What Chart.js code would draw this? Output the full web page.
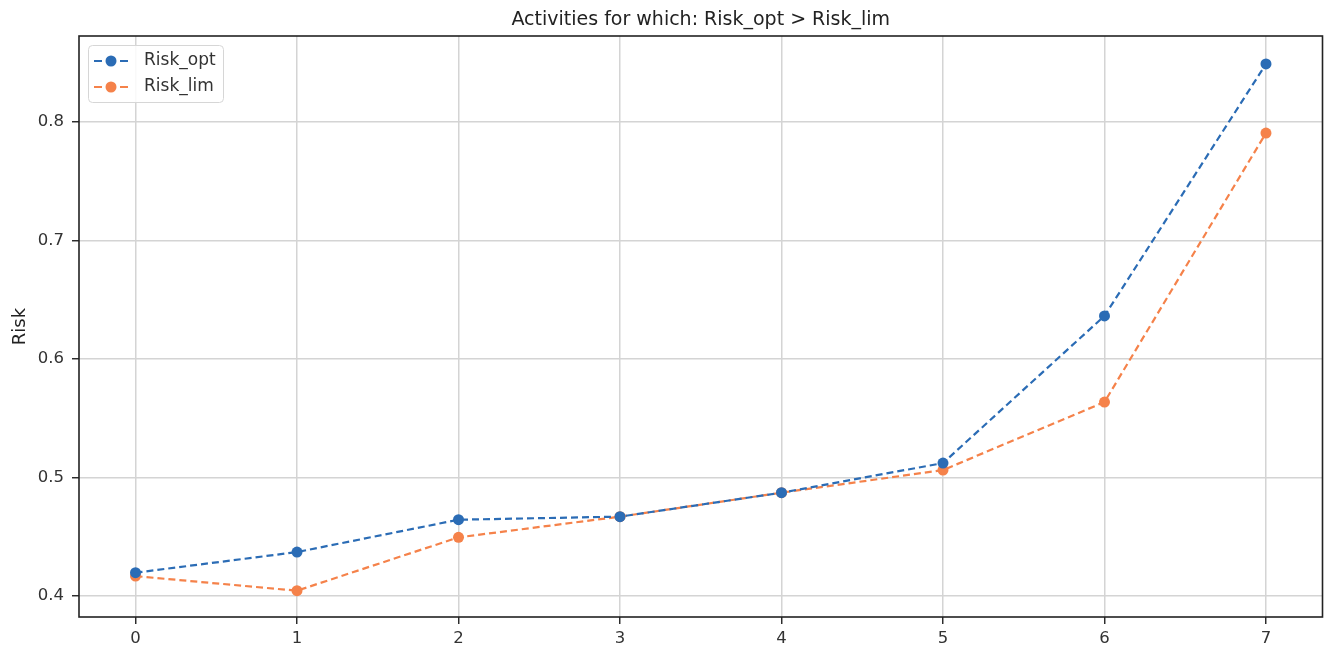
<!DOCTYPE html>
<html>
<head>
<meta charset="utf-8">
<script src="https://cdn.jsdelivr.net/npm/chart.js@4.4.1/dist/chart.umd.min.js"></script>
<style>
  html, body { margin: 0; padding: 0; background: #fff; }
  #wrap { width: 1328px; height: 648px; position: relative; }
</style>
</head>
<body>
<div id="wrap"><canvas id="c"></canvas></div>
<script>
// Activity index and the two risk series
const activities = [0, 1, 2, 3, 4, 5, 6, 7];
const riskOpt = [0.4198, 0.4372, 0.4645, 0.4671, 0.4873, 0.5123, 0.6365, 0.8491];
const riskLim = [0.4169, 0.4046, 0.4496, 0.4671, 0.4873, 0.5064, 0.5638, 0.7908];
const xTicks = [0, 1, 2, 3, 4, 5, 6, 7];
const yTicks = [0.4, 0.5, 0.6, 0.7, 0.8];
const chartTitle = 'Activities for which: Risk_opt > Risk_lim';

const BLUE = '#2b6cb5';
const ORANGE = '#f5824a';
const FONT = "'DejaVu Sans', sans-serif";

const toPoints = vals => activities.map((a, i) => ({ x: a, y: vals[i] }));

// Title centred over the plotting area rather than the whole canvas
const axesTitle = {
  id: 'axesTitle',
  afterDraw(chart) {
    const { ctx, chartArea: a } = chart;
    ctx.save();
    ctx.fillStyle = '#222';
    ctx.font = `19px ${FONT}`;
    ctx.textAlign = 'center';
    ctx.textBaseline = 'middle';
    ctx.fillText(chartTitle, (a.left + a.right) / 2, 20);
    ctx.restore();
  }
};

// Legend drawn inside the upper-left corner of the plot
const innerLegend = {
  id: 'innerLegend',
  afterDatasetsDraw(chart) {
    const { ctx, chartArea } = chart;
    const x0 = chartArea.left + 9, y0 = chartArea.top + 9;
    const w = 135, h = 57;
    ctx.save();
    ctx.fillStyle = 'rgba(255,255,255,0.85)';
    ctx.strokeStyle = '#d6d6d6';
    ctx.lineWidth = 1;
    ctx.beginPath();
    ctx.roundRect(x0 + 0.5, y0 + 0.5, w, h, 4);
    ctx.fill();
    ctx.stroke();
    chart.data.datasets.forEach((ds, i) => {
      const cy = y0 + 16 + i * 26;
      ctx.strokeStyle = ds.borderColor;
      ctx.lineWidth = 2.2;
      ctx.beginPath();
      ctx.moveTo(x0 + 6, cy);
      ctx.lineTo(x0 + 14, cy);
      ctx.moveTo(x0 + 32, cy);
      ctx.lineTo(x0 + 40, cy);
      ctx.stroke();
      ctx.fillStyle = ds.borderColor;
      ctx.beginPath();
      ctx.arc(x0 + 23, cy, 5.5, 0, Math.PI * 2);
      ctx.fill();
      ctx.fillStyle = '#333';
      ctx.font = `17px ${FONT}`;
      ctx.textBaseline = 'middle';
      ctx.textAlign = 'left';
      ctx.fillText(ds.label, x0 + 56, cy);
    });
    ctx.restore();
  }
};

// Black frame around the plotting area
const frame = {
  id: 'frame',
  afterDraw(chart) {
    const { ctx, chartArea: a } = chart;
    ctx.save();
    ctx.strokeStyle = '#222';
    ctx.lineWidth = 1.6;
    ctx.strokeRect(a.left, a.top, a.right - a.left, a.bottom - a.top);
    ctx.restore();
  }
};

const lineStyle = color => ({
  borderColor: color,
  backgroundColor: color,
  borderWidth: 2.2,
  borderDash: [7, 4],
  pointRadius: 5.5,
  pointBorderWidth: 0,
  pointBackgroundColor: color,
  tension: 0
});

new Chart(document.getElementById('c'), {
  type: 'line',
  data: {
    datasets: [
      Object.assign({ label: 'Risk_opt', data: toPoints(riskOpt) }, lineStyle(BLUE)),
      Object.assign({ label: 'Risk_lim', data: toPoints(riskLim) }, lineStyle(ORANGE))
    ]
  },
  options: {
    responsive: true,
    maintainAspectRatio: false,
    animation: false,
    layout: { padding: { left: 0, right: 0, top: 36, bottom: 0 } },
    plugins: {
      legend: { display: false },
      tooltip: { enabled: false },
      title: { display: false }
    },
    scales: {
      x: {
        type: 'linear',
        min: -0.35,
        max: 7.35,
        afterBuildTicks(scale) { scale.ticks = xTicks.map(v => ({ value: v })); },
        afterFit(scale) { scale.height = 31; },
        grid: {
          color: '#d4d4d4',
          lineWidth: 1.5,
          drawTicks: true,
          tickLength: 7,
          tickColor: '#222',
          tickWidth: 1.4
        },
        border: { display: false },
        ticks: {
          color: '#333',
          font: { family: FONT, size: 16.5 },
          padding: 5,
          maxRotation: 0,
          callback: v => String(v)
        }
      },
      y: {
        type: 'linear',
        min: 0.3824,
        max: 0.8727,
        afterBuildTicks(scale) { scale.ticks = yTicks.map(v => ({ value: v })); },
        afterFit(scale) { scale.width = 79; },
        grid: {
          color: '#d4d4d4',
          lineWidth: 1.5,
          drawTicks: true,
          tickLength: 7,
          tickColor: '#222',
          tickWidth: 1.4
        },
        border: { display: false },
        title: {
          display: true,
          text: 'Risk',
          color: '#222',
          font: { family: FONT, size: 18 },
          padding: { top: 10, bottom: 4 }
        },
        ticks: {
          color: '#333',
          font: { family: FONT, size: 16.5 },
          padding: 8,
          callback: v => v.toFixed(1)
        }
      }
    }
  },
  plugins: [innerLegend, frame, axesTitle]
});
</script>
</body>
</html>
